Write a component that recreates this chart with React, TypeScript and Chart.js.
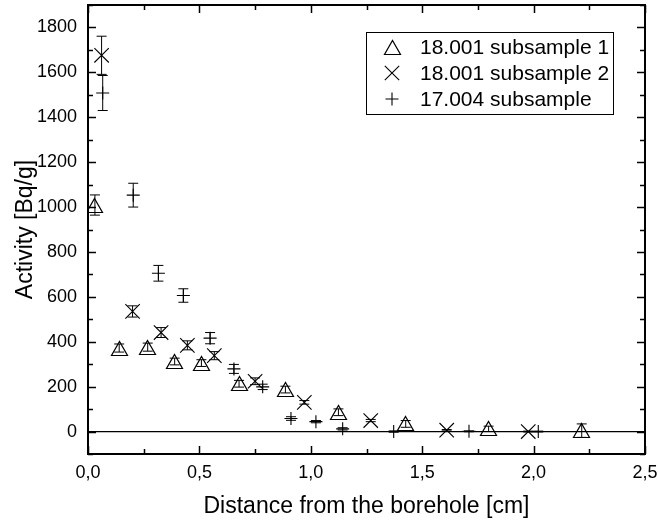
import React, { useEffect, useRef } from 'react';
import { Chart, registerables } from 'chart.js';

Chart.register(...registerables);

// ---- data ----
const S1_LABEL = '18.001 subsample 1';
const S1_X = [0.031, 0.14, 0.268, 0.389, 0.509, 0.678, 0.886, 1.124, 1.426, 1.798, 2.216];
const S1_Y = [1009, 372, 376, 312, 305, 213, 187, 86, 34, 12, 4];
const S1_ERR = [45, 18, 18, 15, 15, 15, 15, 15, 15, 12, 30];

const S2_LABEL = '18.001 subsample 2';
const S2_X = [0.061, 0.2, 0.328, 0.446, 0.567, 0.75, 0.971, 1.269, 1.61, 1.976];
const S2_Y = [1676, 535, 441, 384, 338, 224, 130, 49, 6, 0];
const S2_ERR = [85, 25, 22, 20, 18, 15, 8, 5, 3, 2];

const S3_LABEL = '17.004 subsample';
const S3_X = [0.066, 0.203, 0.316, 0.428, 0.548, 0.655, 0.784, 0.911, 1.023, 1.143, 1.372, 1.71, 2.021];
const S3_Y = [1508, 1053, 705, 606, 416, 279, 199, 58, 44, 12, 0, 1, 0];
const S3_ERR = [78, 53, 35, 30, 25, 20, 12, 8, 5, 5, 3, 2, 2];

const X_TICK_VALUES = [0, 0.5, 1.0, 1.5, 2.0, 2.5];
const X_TICK_LABELS = ['0,0', '0,5', '1,0', '1,5', '2,0', '2,5'];
const Y_TICK_VALUES = [0, 200, 400, 600, 800, 1000, 1200, 1400, 1600, 1800];
const Y_TICK_LABELS = ['0', '200', '400', '600', '800', '1000', '1200', '1400', '1600', '1800'];

const X_TITLE = 'Distance from the borehole [cm]';
const Y_TITLE = 'Activity [Bq/g]';

const FONT = '"Liberation Sans", Arial, sans-serif';

function makeTriangle(): HTMLCanvasElement {
  const c = document.createElement('canvas');
  c.width = 19;
  c.height = 17;
  const g = c.getContext('2d')!;
  g.strokeStyle = '#000';
  g.lineWidth = 1.2;
  g.beginPath();
  g.moveTo(1.5, 15.5);
  g.lineTo(17.5, 15.5);
  g.lineTo(9.5, 1.5);
  g.closePath();
  g.stroke();
  return c;
}

export default function App() {
  const ref = useRef<HTMLCanvasElement | null>(null);

  useEffect(() => {
    if (!ref.current) return;
    const tri = makeTriangle();
    const toPts = (xs: number[], ys: number[]) => xs.map((x, i) => ({ x, y: ys[i] }));
    const errs = [S1_ERR, S2_ERR, S3_ERR];

    const drawMarker = (ctx: CanvasRenderingContext2D, style: string, x: number, y: number) => {
      ctx.save();
      ctx.strokeStyle = '#000';
      ctx.lineWidth = 1.1;
      if (style === 'tri') {
        ctx.drawImage(tri, Math.round(x - tri.width / 2), Math.round(y - tri.height / 2));
      } else if (style === 'x') {
        const r = 7.2;
        ctx.beginPath();
        ctx.moveTo(x - r, y - r);
        ctx.lineTo(x + r, y + r);
        ctx.moveTo(x - r, y + r);
        ctx.lineTo(x + r, y - r);
        ctx.stroke();
      } else {
        const r = 6.5;
        ctx.beginPath();
        ctx.moveTo(x - r, y);
        ctx.lineTo(x + r, y);
        ctx.moveTo(x, y - r);
        ctx.lineTo(x, y + r);
        ctx.stroke();
      }
      ctx.restore();
    };

    const plugin = {
      id: 'originStyle',
      beforeDatasetsDraw(chart: any) {
        const { ctx, chartArea, scales } = chart;
        const y0 = scales.y.getPixelForValue(0);
        ctx.save();
        ctx.strokeStyle = '#000';
        ctx.lineWidth = 1.3;
        ctx.beginPath();
        ctx.moveTo(chartArea.left, y0);
        ctx.lineTo(chartArea.right, y0);
        ctx.stroke();
        ctx.restore();
        ctx.imageSmoothingEnabled = false;
      },
      afterDatasetsDraw(chart: any) {
        const { ctx, scales } = chart;
        ctx.imageSmoothingEnabled = true;
        ctx.save();
        ctx.strokeStyle = '#000';
        ctx.lineWidth = 1;
        chart.data.datasets.forEach((ds: any, di: number) => {
          ds.data.forEach((p: any, i: number) => {
            const e = errs[di][i];
            const px = scales.x.getPixelForValue(p.x);
            const yt = scales.y.getPixelForValue(p.y + e);
            const yb = scales.y.getPixelForValue(p.y - e);
            const cw = 5;
            ctx.beginPath();
            ctx.moveTo(px, yt);
            ctx.lineTo(px, yb);
            ctx.moveTo(px - cw, yt);
            ctx.lineTo(px + cw, yt);
            ctx.moveTo(px - cw, yb);
            ctx.lineTo(px + cw, yb);
            ctx.stroke();
          });
        });
        ctx.restore();
      },
      afterDraw(chart: any) {
        const { ctx, chartArea, scales } = chart;
        const { left, right, top, bottom } = chartArea;
        ctx.save();
        ctx.strokeStyle = '#000';
        // ticks (inward)
        ctx.lineWidth = 1.5;
        ctx.beginPath();
        const xMin = scales.x.min, xMax = scales.x.max;
        for (let k = 0; k <= Math.round((xMax - xMin) / 0.25); k++) {
          const v = xMin + k * 0.25;
          const px = Math.round(scales.x.getPixelForValue(v)) + 0.5;
          const len = k % 2 === 0 ? 8 : 5;
          ctx.moveTo(px, bottom);
          ctx.lineTo(px, bottom - len);
          ctx.moveTo(px, top);
          ctx.lineTo(px, top + len);
        }
        const yMin = scales.y.min, yMax = scales.y.max;
        for (let k = 0; k <= Math.round((yMax - yMin) / 100); k++) {
          const v = yMin + k * 100;
          const py = Math.round(scales.y.getPixelForValue(v)) + 0.5;
          const len = Math.round(v) % 200 === 0 ? 8 : 5;
          ctx.moveTo(left, py);
          ctx.lineTo(left + len, py);
          ctx.moveTo(right, py);
          ctx.lineTo(right - len, py);
        }
        ctx.stroke();
        // frame
        ctx.lineWidth = 2;
        ctx.strokeRect(left, top, right - left, bottom - top);

        // legend
        const lx = 366.5, ly = 32.5, lw = 247, lh = 82;
        ctx.fillStyle = '#fff';
        ctx.fillRect(lx, ly, lw, lh);
        ctx.lineWidth = 1;
        ctx.strokeRect(lx, ly, lw, lh);
        const rows = [
          { s: 'tri', t: chart.data.datasets[0].label },
          { s: 'x', t: chart.data.datasets[1].label },
          { s: 'plus', t: chart.data.datasets[2].label },
        ];
        ctx.font = `21px ${FONT}`;
        ctx.fillStyle = '#000';
        ctx.textBaseline = 'middle';
        ctx.textAlign = 'left';
        rows.forEach((r, i) => {
          const cy = 47 + i * 26;
          drawMarker(ctx, r.s, 392, cy);
          ctx.fillText(r.t, 420, cy + 1);
        });
        ctx.restore();
      },
    };

    const chart = new Chart(ref.current, {
      type: 'scatter',
      data: {
        datasets: [
          {
            label: S1_LABEL,
            data: toPts(S1_X, S1_Y),
            pointStyle: tri as any,
            borderColor: '#000',
            backgroundColor: 'rgba(0,0,0,0)',
          },
          {
            label: S2_LABEL,
            data: toPts(S2_X, S2_Y),
            pointStyle: 'crossRot',
            pointRadius: 10.2,
            borderColor: '#000',
            backgroundColor: 'rgba(0,0,0,0)',
            borderWidth: 1.1,
          },
          {
            label: S3_LABEL,
            data: toPts(S3_X, S3_Y),
            pointStyle: 'cross',
            pointRadius: 6.5,
            borderColor: '#000',
            backgroundColor: 'rgba(0,0,0,0)',
            borderWidth: 1.1,
          },
        ],
      },
      options: {
        responsive: false,
        animation: false,
        layout: { autoPadding: false, padding: { top: 5, right: 13, left: 0, bottom: 0 } },
        plugins: {
          legend: { display: false },
          tooltip: { enabled: false },
        },
        scales: {
          x: {
            type: 'linear',
            min: 0,
            max: 2.5,
            grid: { display: false, drawTicks: false },
            border: { display: false },
            afterBuildTicks: (scale: any) => {
              scale.ticks = X_TICK_VALUES.map((v) => ({ value: v }));
            },
            afterFit: (scale: any) => {
              scale.height = 66;
              scale.paddingLeft = 0;
              scale.paddingRight = 0;
            },
            ticks: {
              padding: 8,
              color: '#000',
              font: { family: FONT, size: 18 },
              maxRotation: 0,
              autoSkip: false,
              callback: (_v: any, i: number) => X_TICK_LABELS[i],
            },
            title: {
              display: true,
              text: X_TITLE,
              color: '#000',
              font: { family: FONT, size: 23 },
              padding: { top: 0, bottom: 0 },
            },
          },
          y: {
            type: 'linear',
            min: -100,
            max: 1900,
            grid: { display: false, drawTicks: false },
            border: { display: false },
            afterBuildTicks: (scale: any) => {
              scale.ticks = Y_TICK_VALUES.map((v) => ({ value: v }));
            },
            afterFit: (scale: any) => {
              scale.width = 88;
              scale.paddingTop = 0;
              scale.paddingBottom = 0;
            },
            ticks: {
              padding: 11,
              color: '#000',
              font: { family: FONT, size: 18 },
              autoSkip: false,
              callback: (_v: any, i: number) => Y_TICK_LABELS[i],
            },
            title: {
              display: true,
              text: Y_TITLE,
              color: '#000',
              font: { family: FONT, size: 23 },
              padding: { top: 12, bottom: 0 },
            },
          },
        },
      },
      plugins: [plugin],
    });

    return () => chart.destroy();
  }, []);

  return (
    <div style={{ position: 'absolute', left: 0, top: 0, width: 658, height: 520, background: '#fff' }}>
      <canvas ref={ref} width={658} height={520} style={{ display: 'block' }} />
    </div>
  );
}
